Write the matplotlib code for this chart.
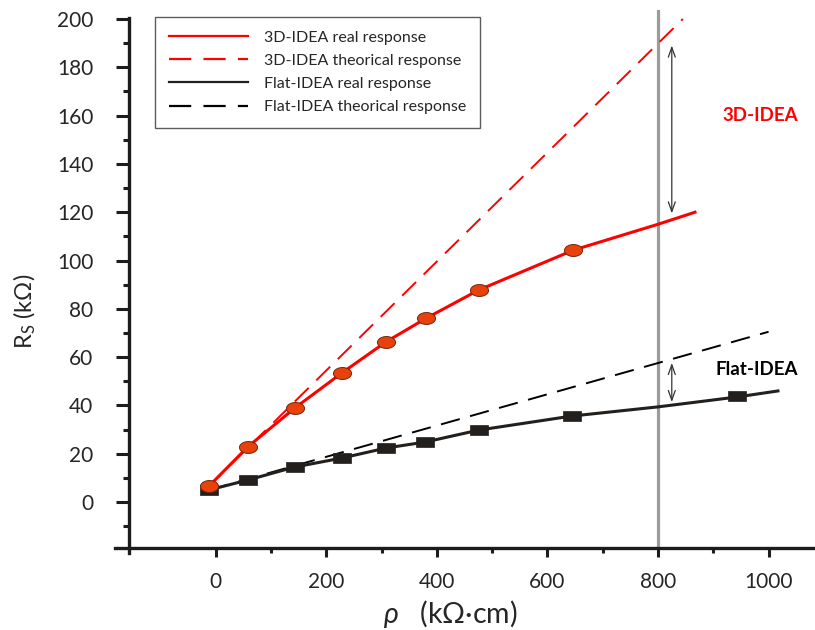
import matplotlib
matplotlib.use("Agg")
import matplotlib.pyplot as plt
from matplotlib.path import Path
import numpy as np

plt.rcParams['font.family'] = ['Lato', 'DejaVu Sans']
plt.rcParams['mathtext.fontset'] = 'custom'
plt.rcParams['mathtext.rm'] = 'Lato'
plt.rcParams['mathtext.it'] = 'Lato:italic'
plt.rcParams['mathtext.default'] = 'regular'

# Measured points (resistivity in kOhm·cm, series resistance in kOhm)
rho_3d = [-12, 58, 143, 228, 308, 380, 476, 647]
rs_3d = [6.6, 22.8, 38.9, 53.4, 66.3, 76.0, 87.8, 104.3]

rho_flat = [-12, 58, 143, 228, 309, 378, 476, 644, 943]
rs_flat = [5.0, 9.1, 14.5, 18.2, 22.4, 24.8, 29.8, 35.6, 43.9]

# Real response curves (through the measurements, continued to the end of the range)
curve_rho_3d = [-12, 58, 143, 228, 308, 380, 476, 647, 800, 867]
curve_rs_3d = [6.6, 22.8, 38.9, 53.4, 66.3, 76.0, 87.8, 104.3, 115.0, 120.0]

curve_rho_flat = [-12, 58, 143, 228, 309, 378, 476, 644, 800, 943, 1017]
curve_rs_flat = [5.0, 9.1, 14.5, 18.2, 22.4, 24.8, 29.8, 35.6, 39.4, 43.5, 46.0]

# Theoretical (linear) responses
theo_rho_3d = [-12, 845]
theo_rs_3d = [6.6, 200.0]
theo_rho_flat = [-12, 1000]
theo_rs_flat = [5.0, 70.5]

# Gap markers at rho = 800
gap_x = 825
gap_3d = (189.0, 119.5)
gap_flat = (57.6, 41.4)

legend_labels = ["3D-IDEA real response", "3D-IDEA theorical response",
                 "Flat-IDEA real response", "Flat-IDEA theorical response"]

RED = "#ff0000"
ORANGE = "#e8410c"
DARK = "#221f1c"
AXIS = "#1c1c1c"
TEXT = "#262626"

# Elliptic and rectangular marker shapes
t = np.linspace(0, 2 * np.pi, 60)
ellipse = Path(np.column_stack([np.cos(t), 0.66 * np.sin(t)]), closed=True)
rect = Path([(-1, -0.64), (1, -0.64), (1, 0.64), (-1, 0.64), (-1, -0.64)], closed=True)

fig = plt.figure(figsize=(8.15, 6.3), dpi=100)
ax = fig.add_axes([0.1411, 0.1222, 0.8589, 0.8492])

ax.set_xlim(-182, 1084)
ax.set_ylim(-21.1, 200.4)

# Vertical reference at rho = 800
ax.plot([800, 800], [-19, 203.5], color="#9b9b9b", lw=2.3, clip_on=False, zorder=1)

# Theoretical responses
l_th3d, = ax.plot(theo_rho_3d, theo_rs_3d, color=RED, lw=1.4, dashes=(10, 5.5), zorder=2)
l_thfl, = ax.plot(theo_rho_flat, theo_rs_flat, color="black", lw=1.4, dashes=(10, 5.5), zorder=2)

# Real responses
l_r3d, = ax.plot(curve_rho_3d, curve_rs_3d, color=RED, lw=2.2, zorder=3)
l_rfl, = ax.plot(curve_rho_flat, curve_rs_flat, color=DARK, lw=2.2, zorder=3)

ax.plot(rho_flat, rs_flat, ls="none", marker=rect, ms=12.3, mfc=DARK, mec=DARK, mew=0.5, zorder=4)
ax.plot(rho_3d, rs_3d, ls="none", marker=ellipse, ms=13, mfc=ORANGE, mec="#6b2a10", mew=0.7, zorder=5)

# Double arrows showing the deviation from theory
for top, bot in (gap_3d, gap_flat):
    ax.annotate("", xy=(gap_x, top), xytext=(gap_x, bot),
                arrowprops=dict(arrowstyle="<->,head_length=0.7,head_width=0.25",
                                color="#333333", lw=0.9, shrinkA=0, shrinkB=0))

ax.text(985, 160, "3D-IDEA", color=RED, fontsize=13.5, fontweight="bold",
        ha="center", va="center")
ax.text(979, 55, "Flat-IDEA", color="black", fontsize=13.5, fontweight="bold",
        ha="center", va="center")

# Axes in crossing style
for s in ("top", "right"):
    ax.spines[s].set_visible(False)
ax.spines["left"].set_position(("data", -157))
ax.spines["bottom"].set_position(("data", -19))
for s in ("left", "bottom"):
    ax.spines[s].set_linewidth(2.4)
    ax.spines[s].set_color(AXIS)

ax.set_xticks([0, 200, 400, 600, 800, 1000])
ax.set_xticks([100, 300, 500, 700, 900], minor=True)
ax.set_yticks(np.arange(0, 201, 20))
ax.set_yticks(np.arange(-10, 200, 20), minor=True)
ax.tick_params(axis="y", which="major", direction="out", length=9.5, width=2.2,
               color=AXIS, labelsize=15, labelcolor=TEXT, pad=16)
ax.tick_params(axis="y", which="minor", direction="out", length=4.5, width=2.2, color=AXIS)
ax.tick_params(axis="x", which="major", direction="out", length=6.5, width=2.2,
               color=AXIS, labelsize=15, labelcolor=TEXT, pad=11)
ax.tick_params(axis="x", which="minor", direction="out", length=3.3, width=2.2, color=AXIS)

fig.text(0.031, 1 - 311 / 630, r"R$_{S}$ (kΩ)", rotation=90, fontsize=17, color=TEXT,
         ha="center", va="center")
fig.text(450 / 815, 1 - 614 / 630, r"$\mathit{\rho}$   (kΩ·cm)", fontsize=20.5, color=TEXT,
         ha="center", va="center")

leg = ax.legend([l_r3d, l_th3d, l_rfl, l_thfl], legend_labels,
                loc="upper left", bbox_to_anchor=(155 / 815, 1 - 17 / 630),
                bbox_transform=fig.transFigure, fontsize=11.5, frameon=True,
                fancybox=False, edgecolor="#333333", handlelength=5.0,
                handletextpad=1.0, labelspacing=0.56, borderpad=0.85,
                borderaxespad=0, labelcolor=TEXT)
leg.get_frame().set_linewidth(1.0)
for h in leg.get_lines():
    h.set_linewidth(1.6)

fig.savefig("out.png", dpi=100)
